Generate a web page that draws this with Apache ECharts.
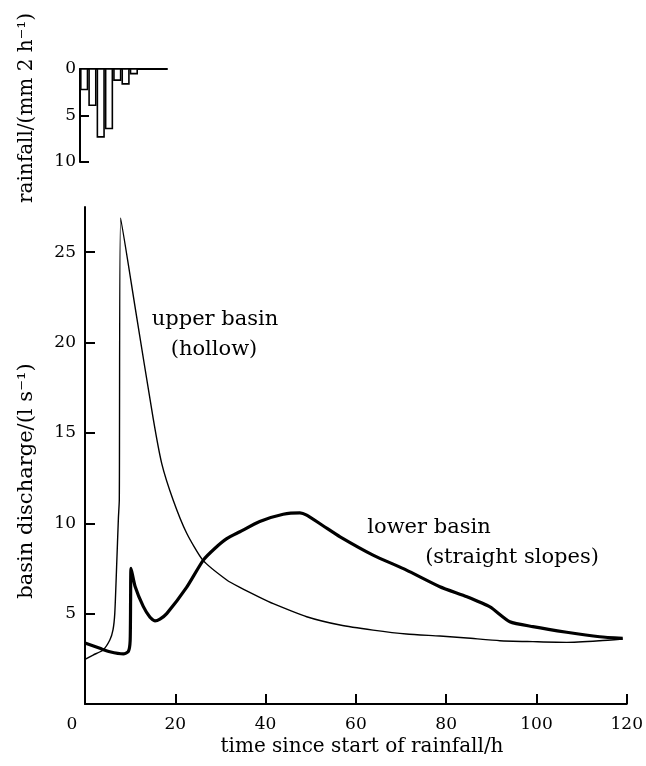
<!DOCTYPE html>
<html>
<head>
<meta charset="utf-8">
<script src="https://cdn.jsdelivr.net/npm/echarts@6/dist/echarts.min.js"></script>
<style>
  html, body { margin: 0; padding: 0; background: #fff; }
  #chart { width: 646px; height: 766px; }
</style>
</head>
<body>
<div id="chart"></div>
<script>
// ---- Data ----
// Rainfall bars (2-hour periods): start hour, end hour, depth (mm per 2 h)
const rainStart = [0, 2, 4, 6, 8, 10, 12];
const rainEnd   = [2, 4, 6, 8, 10, 12, 14];
const rainDepth = [2.2, 3.9, 7.3, 6.4, 1.2, 1.6, 0.5];

// Upper basin (hollow) discharge, thin line
const upperT = [0, 1.8, 4.0, 5.5, 6.2, 6.6, 7.0, 7.4, 7.6, 7.9, 11.2, 15.1, 17.0, 19.5, 22.5, 26.1, 31.4, 34.3, 38.7, 41.7, 49.1, 56.5, 63.8, 71.2, 78.6, 84.6, 91.9, 99.2, 106.7, 114, 119.1];
const upperQ = [2.47, 2.71, 2.99, 3.54, 4.1, 5.03, 7.58, 10.3, 11.3, 26.9, 21.8, 15.8, 13.3, 11.3, 9.46, 7.96, 6.86, 6.45, 5.9, 5.55, 4.83, 4.37, 4.09, 3.87, 3.76, 3.65, 3.5, 3.45, 3.41, 3.5, 3.6];

// Lower basin (straight slopes) discharge, thick line
const lowerT = [0, 3.3, 5.5, 8.5, 9.6, 10.0, 10.1, 10.2, 11.1, 12.9, 14.4, 15.5, 16.6, 18.1, 22.5, 26.2, 28.8, 31.4, 34.3, 38.7, 43.9, 47.6, 49.1, 52.8, 56.5, 63.8, 71.2, 78.6, 84.6, 89.7, 94.1, 99.2, 106.7, 114, 119.1];
const lowerQ = [3.37, 3.08, 2.89, 2.77, 2.9, 3.5, 5.75, 7.5, 6.5, 5.4, 4.8, 4.6, 4.7, 5.0, 6.45, 7.96, 8.62, 9.15, 9.53, 10.1, 10.5, 10.58, 10.45, 9.85, 9.25, 8.24, 7.41, 6.49, 5.93, 5.37, 4.55, 4.28, 3.97, 3.72, 3.63];

// Tick values
const xTicks = [20, 40, 60, 80, 100, 120];
const yTicks = [5, 10, 15, 20, 25];
const rainTicks = [5, 10];

// ---- Chart ----
const FONT = 'DejaVu Serif';
const chart = echarts.init(document.getElementById('chart'), null, { renderer: 'canvas' });

const upperData = upperT.map((t, i) => [t, upperQ[i]]);
const lowerData = lowerT.map((t, i) => [t, lowerQ[i]]);
const rainData = rainStart.map((s, i) => [s, rainEnd[i], rainDepth[i]]);

const axisLine = { show: true, onZero: false, lineStyle: { color: '#000', width: 2 } };
const labelStyle = { color: '#000', fontFamily: FONT, fontSize: 17 };

chart.setOption({
  animation: false,
  backgroundColor: '#fff',
  grid: [
    { left: 85, top: 207, width: 542, height: 497 },
    { left: 80, top: 69, width: 87, height: 93 }
  ],
  xAxis: [
    {
      gridIndex: 0, type: 'value', min: 0, max: 120, interval: 20,
      axisLine: axisLine,
      axisTick: { show: true, inside: true, length: 10, customValues: xTicks, lineStyle: { color: '#000', width: 2 } },
      axisLabel: Object.assign({}, labelStyle, {
        margin: 12,
        formatter: v => v === 0 ? '{z|0}' : String(v),
        rich: { z: { color: '#000', fontFamily: FONT, fontSize: 17, padding: [0, 26, 0, 0] } }
      }),
      splitLine: { show: false }
    },
    {
      gridIndex: 1, type: 'value', min: 0, max: 21, position: 'top',
      axisLine: axisLine,
      axisTick: { show: false },
      axisLabel: { show: false },
      splitLine: { show: false }
    }
  ],
  yAxis: [
    {
      gridIndex: 0, type: 'value', min: 0, max: 27.5, interval: 5,
      axisLine: axisLine,
      axisTick: { show: true, inside: true, length: 10, customValues: yTicks, lineStyle: { color: '#000', width: 2 } },
      axisLabel: Object.assign({}, labelStyle, { margin: 9, customValues: yTicks }),
      splitLine: { show: false }
    },
    {
      gridIndex: 1, type: 'value', min: 0, max: 10, interval: 5, inverse: true,
      axisLine: axisLine,
      axisTick: { show: true, inside: true, length: 9, customValues: rainTicks, lineStyle: { color: '#000', width: 2 } },
      axisLabel: Object.assign({}, labelStyle, { margin: 4, customValues: [0, 5, 10] }),
      splitLine: { show: false }
    }
  ],
  series: [
    {
      name: 'upper basin', type: 'line', xAxisIndex: 0, yAxisIndex: 0,
      data: upperData, showSymbol: false, smooth: 0.2,
      lineStyle: { color: '#000', width: 1.4 }
    },
    {
      name: 'lower basin', type: 'line', xAxisIndex: 0, yAxisIndex: 0,
      data: lowerData, showSymbol: false, smooth: 0.2,
      lineStyle: { color: '#000', width: 3.2 }
    },
    {
      name: 'rainfall', type: 'custom', xAxisIndex: 1, yAxisIndex: 1,
      data: rainData,
      renderItem: function (params, api) {
        const s = api.coord([api.value(0), 0]);
        const e = api.coord([api.value(1), api.value(2)]);
        return {
          type: 'rect',
          shape: { x: s[0] + 0.8, y: s[1], width: e[0] - s[0] - 1.6, height: e[1] - s[1] },
          style: { fill: '#fff', stroke: '#000', lineWidth: 1.6 }
        };
      }
    }
  ],
  graphic: [
    { type: 'text', x: 27, y: 108, rotation: Math.PI / 2,
      style: { text: 'rainfall/(mm 2 h⁻¹)', fill: '#000', font: '20px "DejaVu Serif"', align: 'center', verticalAlign: 'middle' } },
    { type: 'text', x: 27, y: 481, rotation: Math.PI / 2,
      style: { text: 'basin discharge/(l s⁻¹)', fill: '#000', font: '21px "DejaVu Serif"', align: 'center', verticalAlign: 'middle' } },
    { type: 'text', x: 362, y: 747,
      style: { text: 'time since start of rainfall/h', fill: '#000', font: '20px "DejaVu Serif"', align: 'center', verticalAlign: 'middle' } },
    { type: 'text', x: 215, y: 320,
      style: { text: 'upper basin', fill: '#000', font: '21px "DejaVu Serif"', align: 'center', verticalAlign: 'middle' } },
    { type: 'text', x: 214, y: 350,
      style: { text: '(hollow)', fill: '#000', font: '21px "DejaVu Serif"', align: 'center', verticalAlign: 'middle' } },
    { type: 'text', x: 429, y: 528,
      style: { text: 'lower basin', fill: '#000', font: '21px "DejaVu Serif"', align: 'center', verticalAlign: 'middle' } },
    { type: 'text', x: 512, y: 558,
      style: { text: '(straight slopes)', fill: '#000', font: '21px "DejaVu Serif"', align: 'center', verticalAlign: 'middle' } }
  ]
});
</script>
</body>
</html>
